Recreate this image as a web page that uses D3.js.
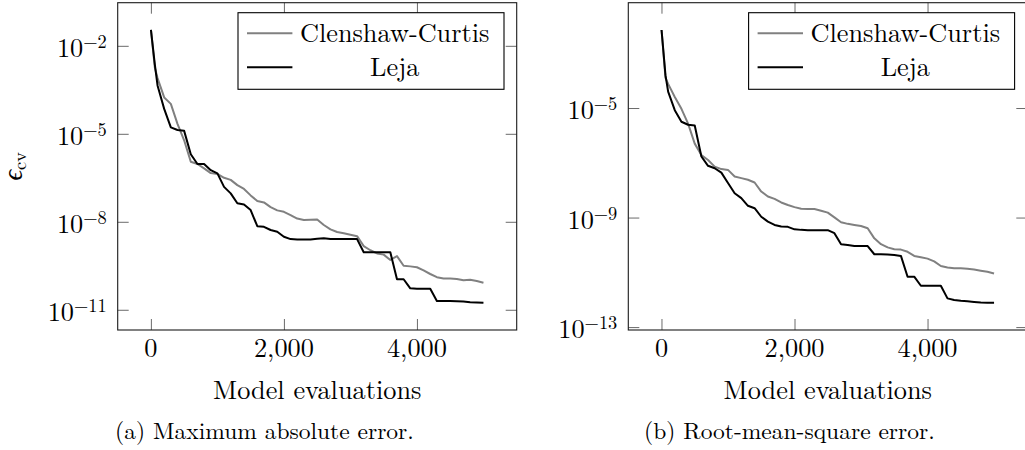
<!DOCTYPE html>
<html><head><meta charset="utf-8">
<script src="https://cdn.jsdelivr.net/npm/d3@7"></script>
<style>
body{margin:0;background:#fff}
svg{display:block}
</style>
</head><body>
<svg id="chart" width="1025" height="450"></svg>
<script>
// ---------- data ----------
const evaluations = [1, 60, 100, 200, 300, 400, 500, 600, 700, 800, 900, 1000,
  1100, 1200, 1300, 1400, 1500, 1600, 1700, 1800, 1900, 2000,
  2100, 2200, 2300, 2400, 2500, 2600, 2700, 2800, 2900, 3000,
  3100, 3200, 3300, 3400, 3500, 3600, 3700, 3800, 3900, 4000,
  4100, 4200, 4300, 4400, 4500, 4600, 4700, 4800, 4900, 5000];

const maxErrCC = [3.47e-2, 1.78e-3, 7.94e-4, 1.74e-4, 1.05e-4, 2.19e-5, 6.03e-6, 1.12e-6, 9.33e-7, 6.61e-7, 4.57e-7, 4.27e-7,
  3.16e-7, 2.69e-7, 1.78e-7, 1.32e-7, 7.94e-8, 5.13e-8, 4.57e-8, 3.16e-8, 2.45e-8, 2.19e-8,
  1.70e-8, 1.29e-8, 1.15e-8, 1.17e-8, 1.20e-8, 7.76e-9, 5.50e-9, 4.47e-9, 4.07e-9, 3.63e-9,
  3.24e-9, 1.48e-9, 1.07e-9, 8.32e-10, 7.59e-10, 5.01e-10, 6.76e-10, 3.16e-10, 3.02e-10, 2.82e-10,
  2.19e-10, 1.66e-10, 1.29e-10, 1.17e-10, 1.17e-10, 1.12e-10, 1.02e-10, 1.05e-10, 9.55e-11, 8.32e-11];

const maxErrLeja = [3.47e-2, 2.24e-3, 4.47e-4, 7.08e-5, 1.66e-5, 1.35e-5, 1.26e-5, 2.00e-6, 9.33e-7, 9.33e-7, 5.75e-7, 4.47e-7,
  1.55e-7, 9.33e-8, 4.27e-8, 3.89e-8, 2.51e-8, 7.08e-9, 6.76e-9, 5.25e-9, 4.57e-9, 3.09e-9,
  2.57e-9, 2.51e-9, 2.51e-9, 2.51e-9, 2.63e-9, 2.75e-9, 2.57e-9, 2.57e-9, 2.57e-9, 2.57e-9,
  2.57e-9, 9.12e-10, 9.12e-10, 9.12e-10, 9.12e-10, 9.12e-10, 1.10e-10, 1.10e-10, 5.37e-11, 5.25e-11,
  5.25e-11, 5.25e-11, 2.00e-11, 2.00e-11, 2.00e-11, 1.95e-11, 1.91e-11, 1.82e-11, 1.78e-11, 1.74e-11];

const rmsErrCC = [7.08e-3, 1.26e-4, 7.59e-5, 2.51e-5, 9.33e-6, 2.69e-6, 5.01e-7, 1.91e-7, 1.26e-7, 7.24e-8, 5.89e-8, 5.50e-8,
  3.16e-8, 2.75e-8, 2.40e-8, 1.91e-8, 8.91e-9, 5.89e-9, 4.79e-9, 3.55e-9, 2.88e-9, 2.40e-9,
  2.09e-9, 2.04e-9, 2.04e-9, 1.78e-9, 1.51e-9, 1.02e-9, 6.76e-10, 5.89e-10, 5.37e-10, 4.90e-10,
  4.07e-10, 1.74e-10, 1.07e-10, 8.13e-11, 6.92e-11, 6.76e-11, 5.62e-11, 3.98e-11, 3.55e-11, 3.16e-11,
  2.51e-11, 1.70e-11, 1.51e-11, 1.41e-11, 1.41e-11, 1.35e-11, 1.26e-11, 1.15e-11, 1.05e-11, 9.12e-12];

const rmsErrLeja = [7.08e-3, 1.58e-4, 3.98e-5, 8.32e-6, 3.16e-6, 2.45e-6, 2.29e-6, 1.70e-7, 7.76e-8, 6.31e-8, 4.37e-8, 1.82e-8,
  7.76e-9, 5.13e-9, 2.69e-9, 2.19e-9, 1.07e-9, 7.08e-10, 5.37e-10, 4.68e-10, 4.57e-10, 3.72e-10,
  3.55e-10, 3.47e-10, 3.47e-10, 3.47e-10, 3.47e-10, 2.69e-10, 1.05e-10, 1.00e-10, 9.12e-11, 9.12e-11,
  9.12e-11, 4.57e-11, 4.57e-11, 4.47e-11, 4.27e-11, 3.98e-11, 6.92e-12, 6.92e-12, 3.24e-12, 3.24e-12,
  3.24e-12, 3.24e-12, 1.12e-12, 9.77e-13, 9.12e-13, 8.71e-13, 8.32e-13, 7.94e-13, 7.76e-13, 7.76e-13];

const seriesNames = ["Clenshaw-Curtis", "Leja"];
const seriesColors = ["#808080", "#000000"];
const xTicks = [0, 2000, 4000];
const yTicksA = [1e-2, 1e-5, 1e-8, 1e-11];
const yTicksB = [1e-5, 1e-9, 1e-13];
const xLabel = "Model evaluations";
const yLabel = "ϵ";
const yLabelSub = "cv";
const captionTags = ["(a)", "(b)"];
const captions = ["Maximum absolute error.", "Root-mean-square error."];

// ---------- layout ----------
const FONT = '"Latin Modern Roman", "Liberation Serif", "DejaVu Serif", serif';
const svg = d3.select("#chart");
const panels = [
  {left: 117.7, right: 516.7, top: 2.7, bottom: 330, series: [maxErrCC, maxErrLeja], yTicks: yTicksA,
   tag: captionTags[0], caption: captions[0], capX: 115, yLab: true},
  {left: 628.3, right: 1027.3, top: 2.7, bottom: 330, series: [rmsErrCC, rmsErrLeja], yTicks: yTicksB,
   tag: captionTags[1], caption: captions[1], capX: 644, yLab: false}
];

function enlarge(lo, hi, f) { const r = hi - lo; return [lo - f * r, hi + f * r]; }
function txt(sel, size) {
  return sel.append("text").style("font-family", FONT).style("font-size", size + "px").attr("fill", "#000");
}

panels.forEach(p => {
  const g = svg.append("g");
  const xd = enlarge(d3.min(evaluations), d3.max(evaluations), 0.1);
  const x = d3.scaleLinear().domain(xd).range([p.left, p.right]);
  const all = p.series.flat();
  const ld = enlarge(Math.log10(d3.min(all)), Math.log10(d3.max(all)), 0.1);
  const y = d3.scaleLog().domain([Math.pow(10, ld[0]), Math.pow(10, ld[1])]).range([p.bottom, p.top]);

  const clipId = "clip" + Math.round(p.left);
  svg.append("clipPath").attr("id", clipId).append("rect")
    .attr("x", p.left).attr("y", p.top).attr("width", p.right - p.left).attr("height", p.bottom - p.top);

  // ticks (inside, on all four sides)
  const tickStyle = sel => { sel.select(".domain").remove(); sel.selectAll("text").remove();
    sel.selectAll("line").attr("stroke", "#6a6a6a").attr("stroke-width", 1); };
  g.append("g").attr("transform", `translate(0,${p.bottom})`)
    .call(d3.axisBottom(x).tickValues(xTicks).tickSize(-11)).call(tickStyle);
  g.append("g").attr("transform", `translate(0,${p.top})`)
    .call(d3.axisTop(x).tickValues(xTicks).tickSize(-11)).call(tickStyle);
  g.append("g").attr("transform", `translate(${p.left},0)`)
    .call(d3.axisLeft(y).tickValues(p.yTicks).tickSize(-11)).call(tickStyle);
  g.append("g").attr("transform", `translate(${p.right},0)`)
    .call(d3.axisRight(y).tickValues(p.yTicks).tickSize(-11)).call(tickStyle);

  // frame
  g.append("rect").attr("x", p.left).attr("y", p.top)
    .attr("width", p.right - p.left).attr("height", p.bottom - p.top)
    .attr("fill", "none").attr("stroke", "#1a1a1a").attr("stroke-width", 1.1);

  // x tick labels
  xTicks.forEach(t => {
    txt(g, 26.3).attr("x", x(t)).attr("y", p.bottom + 26.7)
      .attr("text-anchor", "middle").text(d3.format(",")(t));
  });

  // y tick labels 10^k
  p.yTicks.forEach(t => {
    const k = Math.round(Math.log10(t));
    const tx = txt(g, 26.3).attr("x", p.left - 11).attr("y", y(t) + 11).attr("text-anchor", "end");
    tx.append("tspan").text("10");
    tx.append("tspan").attr("dy", -9).style("font-size", "18.4px").text("\u2212" + Math.abs(k));
  });

  // lines
  const line = d3.line().x(d => x(d[0])).y(d => y(d[1]));
  p.series.forEach((s, i) => {
    g.append("path").datum(evaluations.map((e, j) => [e, s[j]]))
      .attr("d", line).attr("fill", "none")
      .attr("stroke", seriesColors[i]).attr("stroke-width", 2)
      .attr("stroke-linejoin", "round").attr("clip-path", `url(#${clipId})`);
  });

  // legend
  const lw = 266, lh = 76.6;
  const lx = p.right - 12.7 - lw, ly = p.top + 10;
  const lg = g.append("g");
  lg.append("rect").attr("x", lx).attr("y", ly).attr("width", lw).attr("height", lh)
    .attr("fill", "#fff").attr("stroke", "#000").attr("stroke-width", 1.1);
  seriesNames.forEach((n, i) => {
    const cy = ly + 20.6 + i * 34;
    lg.append("line").attr("x1", lx + 9).attr("x2", lx + 54.4).attr("y1", cy).attr("y2", cy)
      .attr("stroke", seriesColors[i]).attr("stroke-width", 2);
    txt(lg, 26.3).attr("x", lx + 156.7).attr("y", cy + 8.4).attr("text-anchor", "middle").text(n);
  });

  // x label
  txt(g, 26.3).attr("x", (p.left + p.right) / 2).attr("y", 399.3)
    .attr("text-anchor", "middle").text(xLabel);

  // caption
  const cap = txt(g, 23.5).attr("x", p.capX).attr("y", 439.3);
  cap.append("tspan").text(p.tag);
  cap.append("tspan").attr("dx", 8).text(p.caption);

  // y label
  if (p.yLab) {
    const yl = txt(g, 26.3)
      .attr("transform", `translate(22,${(p.top + p.bottom) / 2}) rotate(-90)`)
      .attr("text-anchor", "middle");
    yl.append("tspan").style("font-style", "italic").text(yLabel);
    yl.append("tspan").attr("dy", 4).style("font-size", "18.4px").text(yLabelSub);
  }
});
</script>
</body></html>
